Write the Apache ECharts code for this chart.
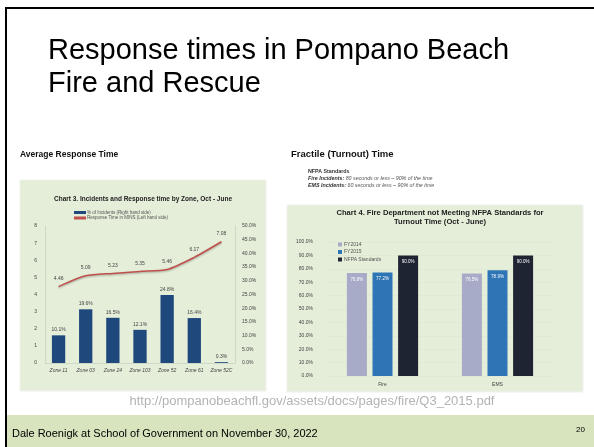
<!DOCTYPE html>
<html><head><meta charset="utf-8">
<script src="https://cdn.jsdelivr.net/npm/echarts@6/dist/echarts.min.js"></script>
<style>html,body{margin:0;padding:0;background:#fff}#c{width:594px;height:447px}</style>
</head><body><div id="c"></div>
<script>
// Chart 3 data
const zones = ['Zone 11','Zone 03','Zone 24','Zone 103','Zone 52','Zone 61','Zone 52C'];
const incidentPct = [10.1, 19.6, 16.5, 12.1, 24.8, 16.4, 0.3];
const responseMins = [4.46, 5.09, 5.23, 5.35, 5.46, 6.17, 7.08];
// Chart 4 data
const callTypes = ['Fire', 'EMS'];
const fy2014 = [76.8, 76.5];
const fy2015 = [77.2, 78.9];
const nfpa = [90.0, 90.0];

const chart = echarts.init(document.getElementById('c'), null, {renderer:'canvas'});
const F = 'Liberation Sans, Arial, sans-serif';
const tiny = {fontFamily: F, fontSize: 5, color: '#444'};
function txt(x, y, text, extra) {
  return {type:'text', x:x, y:y, z:5, style:Object.assign({text:text, fontFamily:F, fill:'#000', textVerticalAlign:'top'}, extra)};
}

chart.setOption({
  animation: false,
  backgroundColor: '#ffffff',
  graphic: [
    {type:'rect', shape:{x:6,y:8,width:590,height:440}, style:{fill:'none', stroke:'#000', lineWidth:2}, z:0},
    {type:'rect', shape:{x:7,y:415,width:587,height:32}, style:{fill:'#d8e4bd'}, z:0},
    {type:'rect', shape:{x:20,y:180,width:246,height:211}, style:{fill:'#e5eed9', stroke:'#f0f0f0', lineWidth:1}, z:0},
    {type:'rect', shape:{x:287,y:205,width:296,height:187}, style:{fill:'#e5eed9', stroke:'#f0f0f0', lineWidth:1}, z:0},
    txt(48, 34, 'Response times in Pompano Beach\nFire and Rescue', {fontSize:29, lineHeight:33}),
    txt(20, 150, 'Average Response Time', {fontSize:8.5, fontWeight:'bold', fill:'#111'}),
    txt(291, 149, 'Fractile (Turnout) Time', {fontSize:9.5, fontWeight:'bold', fill:'#111'}),
    {type:'text', x:308, y:168, z:5, style:{
      text:'{b|NFPA Standards}\n{bi|Fire Incidents:}{i| 80 seconds or less – 90% of the time}\n{bi|EMS Incidents:}{i| 60 seconds or less – 90% of the time}',
      textVerticalAlign:'top', fontSize:5.3, lineHeight:7,
      rich:{b:{fontFamily:F,fontSize:5.3,fontWeight:'bold',fill:'#333',lineHeight:7},
            bi:{fontFamily:F,fontSize:5.3,fontWeight:'bold',fontStyle:'italic',fill:'#333',lineHeight:7},
            i:{fontFamily:F,fontSize:5.3,fontStyle:'italic',fill:'#555',lineHeight:7}}}},
    txt(143, 196, 'Chart 3. Incidents and Response time by Zone, Oct - June', {fontSize:6.5, fontWeight:'bold', fill:'#222', textAlign:'center'}),
    txt(440, 209, 'Chart 4. Fire Department not Meeting NFPA Standards for\nTurnout Time (Oct - June)', {fontSize:7.6, fontWeight:'bold', fill:'#222', textAlign:'center', lineHeight:8.5}),
    txt(312, 395, 'http://pompanobeachfl.gov/assets/docs/pages/fire/Q3_2015.pdf', {fontSize:13, fill:'#b3b3b3', textAlign:'center'}),
    txt(12, 428, 'Dale Roenigk at School of Government on November 30, 2022', {fontSize:11}),
    txt(576, 426, '20', {fontSize:8})
  ],
  legend: [
    {orient:'vertical', left:69, top:205, itemGap:0.5, itemWidth:12, itemHeight:3,
     textStyle:{fontFamily:F, fontSize:4.5, color:'#555', padding:[0,0,0,-4]},
     data:[{name:'% of Incidents (Right hand side)', icon:'rect', itemStyle:{color:'#1f497d'}},
           {name:'Response Time in MINS (Left hand side)', icon:'rect', itemStyle:{color:'#c0504d'}}]},
    {orient:'vertical', left:333, top:237, itemGap:2.5, itemWidth:4, itemHeight:4,
     textStyle:{fontFamily:F, fontSize:5, color:'#555', padding:[0,0,0,-3]},
     data:[{name:'FY2014',icon:'rect'},{name:'FY2015',icon:'rect'},{name:'NFPA Standards',icon:'rect'}]}
  ],
  grid: [
    {left:45, right:359, top:226, bottom:84},
    {left:325, right:39, top:242, bottom:71}
  ],
  xAxis: [
    {gridIndex:0, type:'category', data:zones, axisLine:{lineStyle:{color:'#cfd8c4'}}, axisTick:{show:false},
     axisLabel:{...tiny, fontStyle:'italic', margin:5, interval:0}},
    {gridIndex:1, type:'category', data:callTypes, axisLine:{show:false}, axisTick:{show:false},
     axisLabel:{...tiny, margin:6}}
  ],
  yAxis: [
    {gridIndex:0, type:'value', min:0, max:8, interval:1, axisLine:{show:true, lineStyle:{color:'#cfd8c4'}}, axisTick:{show:false},
     splitLine:{show:false}, axisLabel:{...tiny, margin:8}},
    {gridIndex:0, type:'value', min:0, max:50, interval:5, position:'right', axisLine:{show:true, lineStyle:{color:'#cfd8c4'}}, axisTick:{show:false},
     splitLine:{show:false}, axisLabel:{...tiny, margin:7, formatter:v=>v.toFixed(1)+'%'}},
    {gridIndex:1, type:'value', min:0, max:100, interval:10, axisLine:{show:false}, axisTick:{show:false},
     splitLine:{show:true, lineStyle:{color:'#dbe4d0', width:0.5}}, axisLabel:{...tiny, margin:12, formatter:v=>v.toFixed(1)+'%'}}
  ],
  series: [
    {name:'% of Incidents (Right hand side)', type:'bar', xAxisIndex:0, yAxisIndex:1, data:incidentPct, barWidth:'49%',
     itemStyle:{color:'#1f497d'}, label:{show:true, position:'top', distance:3, ...tiny, fontSize:5, formatter:p=>p.value.toFixed(1)+'%'}},
    {name:'Response Time in MINS (Left hand side)', type:'line', xAxisIndex:0, yAxisIndex:0, data:responseMins, smooth:0.25,
     symbol:'circle', symbolSize:1, showSymbol:true,
     lineStyle:{color:'#c0504d', width:1.5, shadowColor:'rgba(0,0,0,0.3)', shadowBlur:2, shadowOffsetY:1},
     itemStyle:{color:'rgba(192,80,77,0)'}, label:{show:true, position:'top', distance:5, ...tiny, fontSize:5, formatter:p=>p.value.toFixed(2)}},
    {name:'FY2014', type:'bar', xAxisIndex:1, yAxisIndex:2, data:fy2014, barWidth:20, barGap:'28%',
     itemStyle:{color:'#a7abc8'}, label:{show:true, position:'insideTop', distance:4, fontFamily:F, fontSize:4.5, color:'#fff', formatter:p=>p.value.toFixed(1)+'%'}},
    {name:'FY2015', type:'bar', xAxisIndex:1, yAxisIndex:2, data:fy2015, barWidth:20, barGap:'28%',
     itemStyle:{color:'#2e75b6'}, label:{show:true, position:'insideTop', distance:4, fontFamily:F, fontSize:4.5, color:'#fff', formatter:p=>p.value.toFixed(1)+'%'}},
    {name:'NFPA Standards', type:'bar', xAxisIndex:1, yAxisIndex:2, data:nfpa, barWidth:20, barGap:'28%',
     itemStyle:{color:'#1f2433'}, label:{show:true, position:'insideTop', distance:4, fontFamily:F, fontSize:4.5, color:'#fff', formatter:p=>p.value.toFixed(1)+'%'}}
  ]
});
</script></body></html>
